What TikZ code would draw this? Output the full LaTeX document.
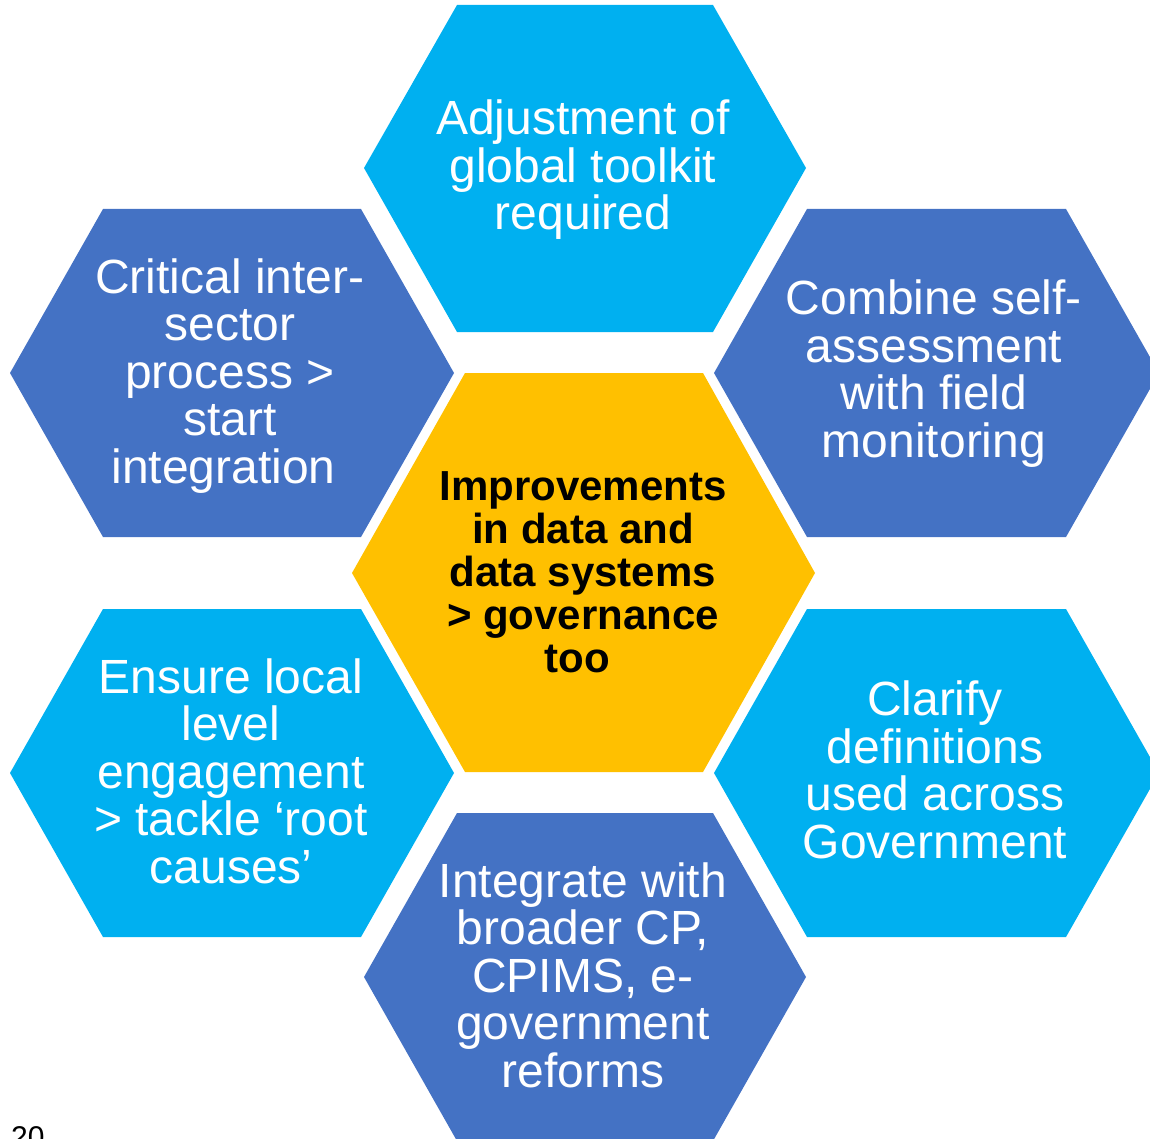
\documentclass[tikz,border=0pt]{standalone}
\usepackage{fontspec}
\setmainfont{Liberation Sans}
\definecolor{lb}{RGB}{0,176,240}
\definecolor{db}{RGB}{68,114,196}
\definecolor{gold}{RGB}{255,192,0}
\tikzset{
  hexlb/.style={fill=lb},
  hexdb/.style={fill=db},
  hexgold/.style={fill=gold},
  lbl/.style={text=white, align=center, inner sep=0pt, anchor=base,
    font=\fontsize{48}{47.5}\selectfont},
  ctr/.style={text=black, align=center, inner sep=0pt, anchor=base,
    font=\bfseries\fontsize{42}{43}\selectfont},
}
\begin{document}
\begin{tikzpicture}[x=1pt,y=-1pt]
\useasboundingbox (0,0) rectangle (1150,1139);
\clip (0,0) rectangle (1150,1139);
% hexagons
\path[hexlb] (364,168) -- (457,5) -- (713,5) -- (806,168) -- (713,332) -- (457,332) -- cycle;
\path[hexdb] (10,373) -- (103,209) -- (361,209) -- (454,373) -- (361,537) -- (103,537) -- cycle;
\path[hexdb] (714,373) -- (807,209) -- (1066,209) -- (1159,373) -- (1066,537) -- (807,537) -- cycle;
\path[hexgold] (352,573) -- (465,373) -- (703,373) -- (815,573) -- (703,772) -- (465,772) -- cycle;
\path[hexlb] (10,773) -- (103,609) -- (361,609) -- (454,773) -- (361,937) -- (103,937) -- cycle;
\path[hexlb] (714,773) -- (807,609) -- (1066,609) -- (1159,773) -- (1066,937) -- (807,937) -- cycle;
\path[hexdb] (364,977) -- (457,813) -- (713,813) -- (806,977) -- (713,1141) -- (457,1141) -- cycle;
% texts (anchor=base is the baseline of the last line)
\node[lbl] (top) at (583,230) {Adjustment of\\global toolkit\\required};
\node[lbl] (tl) at (230,483) {Critical inter-\\sector\\process >\\start\\integration\kern13pt};
\node[lbl] (tr) at (934,457) {Combine self-\\assessment\\with field\\monitoring};
\node[ctr] (center) at (583,672) {Improvements\\in data and\\data systems\\> governance\\too\kern11.7pt};
\node[lbl] (bl) at (231,883) {Ensure local\\level\\engagement\\> tackle ‘root\\causes’};
\node[lbl] (br) at (935,858) {Clarify\\definitions\\used across\\Government};
\node[lbl] (bot) at (583,1087) {Integrate with\\broader CP,\\CPIMS, e-\\government\\reforms};
\node[inner sep=0pt, anchor=base west, font=\fontsize{30}{30}\selectfont] (pg) at (11,1147) {20};
\end{tikzpicture}
\end{document}
